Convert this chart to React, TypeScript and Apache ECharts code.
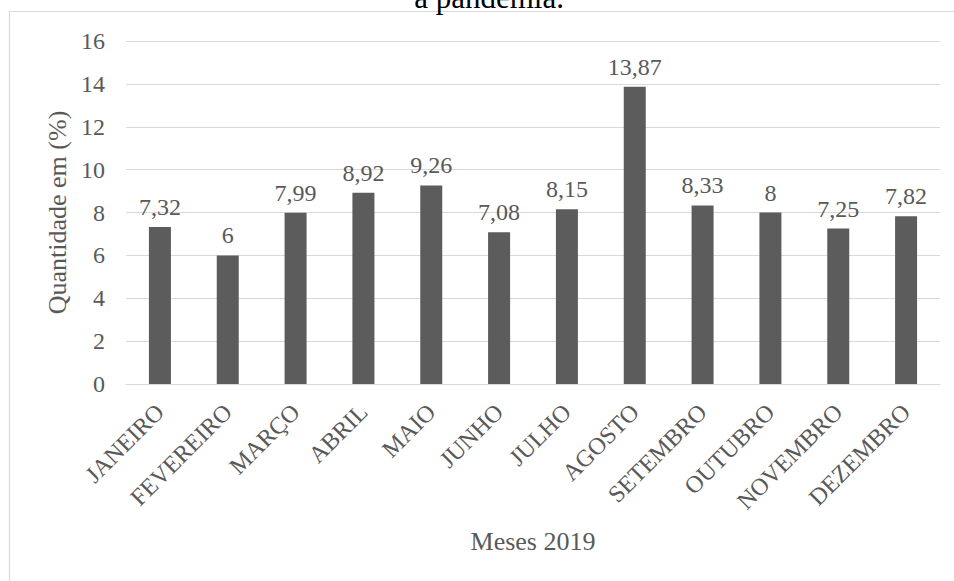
import React, { useEffect, useRef } from "react";
import * as echarts from "echarts";

const meses = [
  "JANEIRO",
  "FEVEREIRO",
  "MARÇO",
  "ABRIL",
  "MAIO",
  "JUNHO",
  "JULHO",
  "AGOSTO",
  "SETEMBRO",
  "OUTUBRO",
  "NOVEMBRO",
  "DEZEMBRO",
];

const quantidade = [7.32, 6, 7.99, 8.92, 9.26, 7.08, 8.15, 13.87, 8.33, 8, 7.25, 7.82];

const yTicks = { min: 0, max: 16, interval: 2 };

const FONT = "Liberation Serif";
const TEXT = "#595959";
const GRID = "#d9d9d9";

const fmt = (v: number) => String(v).replace(".", ",");

export default function App() {
  const ref = useRef<HTMLDivElement>(null);

  useEffect(() => {
    if (!ref.current) return;
    const chart = echarts.init(ref.current, undefined, { renderer: "svg" });
    chart.setOption({
      animation: false,
      backgroundColor: "#ffffff",
      textStyle: { fontFamily: FONT },
      grid: { left: 126, right: 14, top: 41, bottom: 197, containLabel: false },
      graphic: [
        {
          type: "rect",
          shape: { x: 9.5, y: 11.5, width: 980, height: 620 },
          style: { fill: "none", stroke: GRID, lineWidth: 1.2 },
          silent: true,
        },
        {
          type: "text",
          x: 489,
          y: -2.5,
          style: {
            text: "a pandemia.",
            fontSize: 31,
            fontFamily: FONT,
            fill: "#000000",
            align: "center",
            verticalAlign: "middle",
          },
          silent: true,
        },
      ],
      xAxis: {
        type: "category",
        data: meses,
        axisLine: { lineStyle: { color: GRID, width: 1 } },
        axisTick: { show: false },
        axisLabel: {
          rotate: 45,
          interval: 0,
          margin: 24,
          color: TEXT,
          fontSize: 24,
          fontFamily: FONT,
        },
        name: "Meses 2019",
        nameLocation: "middle",
        nameGap: 144,
        nameTextStyle: { color: TEXT, fontSize: 26, fontFamily: FONT },
      },
      yAxis: {
        type: "value",
        min: yTicks.min,
        max: yTicks.max,
        interval: yTicks.interval,
        axisLine: { show: false },
        axisTick: { show: false },
        axisLabel: { color: TEXT, fontSize: 24, fontFamily: FONT, margin: 21 },
        splitLine: { lineStyle: { color: GRID, width: 1 } },
        name: "Quantidade em (%)",
        nameLocation: "middle",
        nameGap: 50,
        nameTextStyle: { color: TEXT, fontSize: 26, fontFamily: FONT },
      },
      series: [
        {
          type: "bar",
          data: quantidade,
          barWidth: 22,
          itemStyle: { color: "#5c5c5c" },
          label: {
            show: true,
            position: "top",
            distance: 8,
            color: TEXT,
            fontSize: 24,
            fontFamily: FONT,
            formatter: (p: any) => fmt(p.value),
          },
        },
      ],
    });
    return () => chart.dispose();
  }, []);

  return (
    <div
      ref={ref}
      style={{ position: "fixed", left: 0, top: 0, width: 954, height: 581, background: "#fff" }}
    />
  );
}
